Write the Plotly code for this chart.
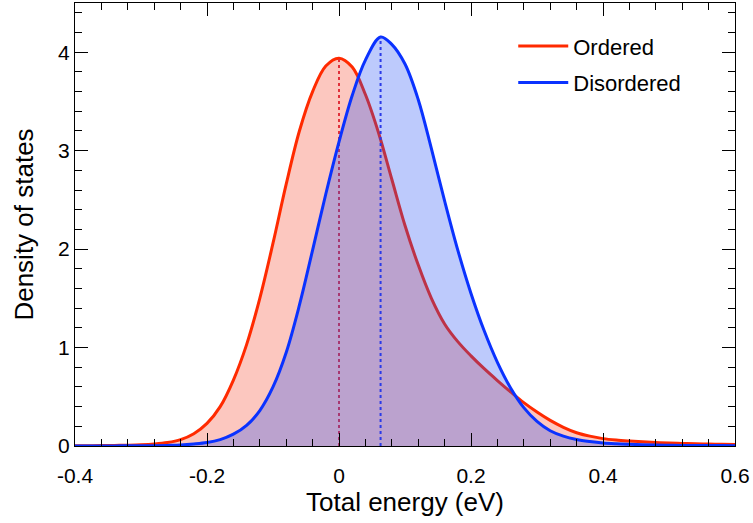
import plotly.graph_objects as go

# Ordered curve (Total energy in eV, density of states)
ordered_x = [-0.40, -0.38, -0.36, -0.34, -0.32, -0.30, -0.28, -0.26, -0.24, -0.22, -0.20,
             -0.18, -0.16, -0.14, -0.12, -0.10, -0.08, -0.06, -0.04, -0.02, 0.00,
             0.02, 0.04, 0.06, 0.08, 0.10, 0.12, 0.14, 0.16, 0.18, 0.20,
             0.22, 0.24, 0.26, 0.28, 0.30, 0.32, 0.34, 0.36, 0.38, 0.40,
             0.42, 0.44, 0.46, 0.48, 0.50, 0.52, 0.54, 0.56, 0.58, 0.60]
ordered_y = [0.002, 0.003, 0.004, 0.006, 0.008, 0.012, 0.02, 0.035, 0.065, 0.125, 0.23,
             0.40, 0.67, 1.03, 1.50, 2.06, 2.66, 3.20, 3.60, 3.86, 3.94,
             3.85, 3.57, 3.18, 2.71, 2.24, 1.84, 1.50, 1.24, 1.06, 0.915,
             0.785, 0.665, 0.55, 0.44, 0.345, 0.26, 0.19, 0.135, 0.10, 0.075,
             0.06, 0.05, 0.042, 0.036, 0.03, 0.026, 0.022, 0.02, 0.017, 0.015]

# Disordered curve
disordered_x = [-0.40, -0.38, -0.36, -0.34, -0.32, -0.30, -0.28, -0.26, -0.24, -0.22, -0.20,
                -0.18, -0.16, -0.14, -0.12, -0.10, -0.08, -0.06, -0.04, -0.02, 0.00,
                0.02, 0.04, 0.063, 0.08, 0.10, 0.12, 0.14, 0.16, 0.18, 0.20,
                0.22, 0.24, 0.26, 0.28, 0.30, 0.32, 0.34, 0.36, 0.38, 0.40,
                0.42, 0.44, 0.46, 0.48, 0.50, 0.52, 0.54, 0.56, 0.58, 0.60]
disordered_y = [0.0, 0.0, 0.001, 0.001, 0.002, 0.002, 0.003, 0.006, 0.01, 0.02, 0.035,
                0.065, 0.12, 0.21, 0.36, 0.60, 0.95, 1.43, 1.99, 2.56, 3.09,
                3.56, 3.92, 4.155, 4.08, 3.88, 3.52, 3.02, 2.49, 1.99, 1.55,
                1.17, 0.85, 0.59, 0.39, 0.25, 0.155, 0.10, 0.066, 0.045, 0.03,
                0.022, 0.017, 0.013, 0.01, 0.008, 0.006, 0.005, 0.004, 0.004, 0.003]

series_names = ["Ordered", "Disordered"]
x_ticks = [-0.4, -0.2, 0, 0.2, 0.4, 0.6]
x_tick_labels = ["-0.4", "-0.2", "0", "0.2", "0.4", "0.6"]
y_ticks = [0, 1, 2, 3, 4]

RED = "#ff2a00"
BLUE = "#0a32ff"
RED_FILL = "rgba(246,62,36,0.29)"
BLUE_FILL = "rgba(27,72,245,0.29)"
FONT = "Liberation Sans, Arial, Helvetica, sans-serif"


def peak(xs, ys):
    i = max(range(len(ys)), key=lambda k: ys[k])
    return xs[i], ys[i]


fig = go.Figure()

# Ordered: fill, line, peak marker line
fig.add_trace(go.Scatter(x=ordered_x, y=ordered_y, mode="lines", showlegend=False,
                         line=dict(color="rgba(0,0,0,0)", width=0, shape="spline", smoothing=1.0),
                         fill="tozeroy", fillcolor=RED_FILL, hoverinfo="skip"))
fig.add_trace(go.Scatter(x=ordered_x, y=ordered_y, name=series_names[0], mode="lines",
                         line=dict(color=RED, width=3, shape="spline", smoothing=1.0),
                         legendgroup="a"))
px0, py0 = peak(ordered_x, ordered_y)
fig.add_trace(go.Scatter(x=[px0, px0], y=[0, py0], mode="lines", showlegend=False,
                         line=dict(color="#e0303a", width=2, dash="3px,3px")))

# Disordered: fill, line, peak marker line
fig.add_trace(go.Scatter(x=disordered_x, y=disordered_y, mode="lines", showlegend=False,
                         line=dict(color="rgba(0,0,0,0)", width=0, shape="spline", smoothing=1.0),
                         fill="tozeroy", fillcolor=BLUE_FILL, hoverinfo="skip"))
fig.add_trace(go.Scatter(x=disordered_x, y=disordered_y, name=series_names[1], mode="lines",
                         line=dict(color=BLUE, width=3, shape="spline", smoothing=1.0),
                         legendgroup="b"))
px1, py1 = peak(disordered_x, disordered_y)
fig.add_trace(go.Scatter(x=[px1, px1], y=[0, py1], mode="lines", showlegend=False,
                         line=dict(color="#2a3ae8", width=2, dash="3px,3px")))

axis_common = dict(
    showline=True, linecolor="black", linewidth=1.3, mirror="ticks",
    ticks="inside", ticklen=13, tickwidth=1.2, tickcolor="black",
    showgrid=False, zeroline=False,
    tickfont=dict(family=FONT, size=21, color="black"),
)

fig.update_xaxes(range=[-0.4, 0.6], tickmode="array", tickvals=x_ticks, ticktext=x_tick_labels,
                 minor=dict(tickmode="linear", dtick=0.04, tick0=-0.4, ticks="inside", ticklen=7,
                            tickwidth=1, tickcolor="black", showgrid=False),
                 title=dict(text="Total energy (eV)", font=dict(family=FONT, size=26, color="black"),
                            standoff=5),
                 ticklabelstandoff=11,
                 **axis_common)
fig.update_yaxes(range=[0, 4.5], tickmode="array", tickvals=y_ticks,
                 minor=dict(tickmode="linear", dtick=0.2, tick0=0, ticks="inside", ticklen=7,
                            tickwidth=1, tickcolor="black", showgrid=False),
                 title=dict(text="Density of states", font=dict(family=FONT, size=26, color="black"),
                            standoff=16),
                 **axis_common)

fig.update_layout(
    width=753, height=523,
    margin=dict(l=75, r=18, t=3, b=77, autoexpand=False),
    plot_bgcolor="white", paper_bgcolor="white",
    font=dict(family=FONT, color="black"),
    legend=dict(x=0.664, y=0.95, xanchor="left", yanchor="top",
                bgcolor="rgba(0,0,0,0)", font=dict(family=FONT, size=22, color="black"),
                traceorder="grouped", tracegroupgap=5, itemwidth=50),
)

fig.write_html("out.html")
